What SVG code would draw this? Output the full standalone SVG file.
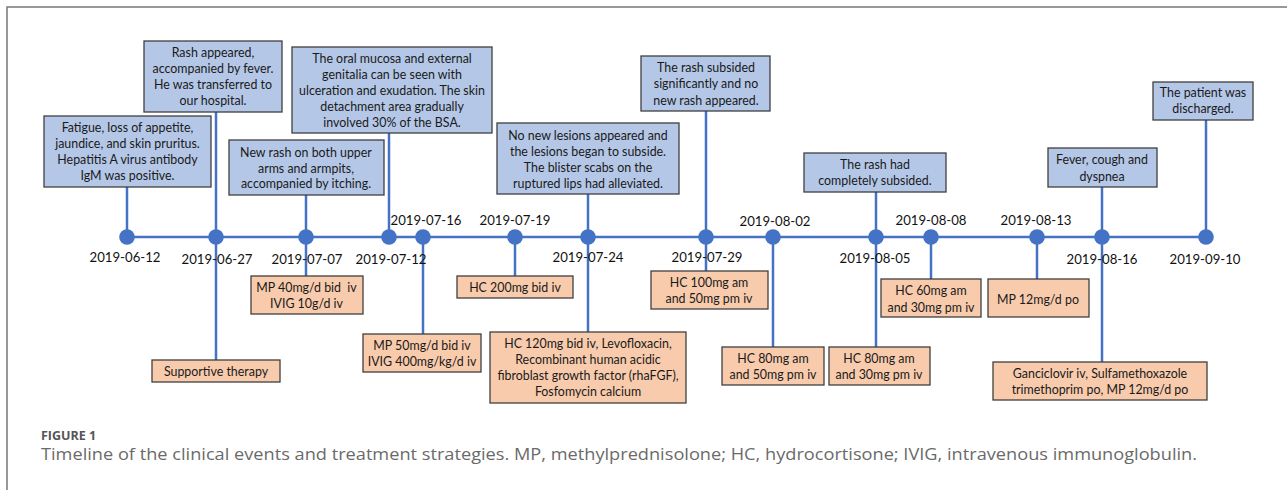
<svg xmlns="http://www.w3.org/2000/svg" width="1287" height="490" viewBox="0 0 1287 490">
<style>
.frame{fill:none;stroke:#777;stroke-width:1.5}
.ln{stroke:#4472C4;stroke-width:2.5;fill:none}
.dot{fill:#4472C4}
.ev{fill:#B4C7E7;stroke:#3f3f3f;stroke-width:1.3}
.tr{fill:#F8CBAD;stroke:#3f3f3f;stroke-width:1.3}
.t{font-family:Lato,"Liberation Sans",Arial,sans-serif;font-size:12.4px;fill:#1a1a1a;text-anchor:middle}
.d{font-family:Lato,"Liberation Sans",Arial,sans-serif;font-size:13.2px;fill:#111;text-anchor:middle}
.cap1{font-family:"Open Sans","Liberation Sans",sans-serif;font-size:12.5px;font-weight:bold;fill:#555}
.cap2{font-family:"Open Sans","Liberation Sans",sans-serif;font-size:15.5px;fill:#6a6a6a}
</style>
<rect width="1287" height="490" fill="#fff"/>
<path class="frame" d="M7,490 V7 H1287"/>

<g id="connectors">
<line class="ln" x1="127" y1="237" x2="1206" y2="237"/>
<line class="ln" x1="127" y1="187" x2="127" y2="237"/>
<line class="ln" x1="216" y1="112" x2="216" y2="360"/>
<line class="ln" x1="306" y1="195" x2="306" y2="276"/>
<line class="ln" x1="389" y1="133" x2="389" y2="237"/>
<line class="ln" x1="423" y1="237" x2="423" y2="334"/>
<line class="ln" x1="515" y1="237" x2="515" y2="276"/>
<line class="ln" x1="588" y1="194" x2="588" y2="332"/>
<line class="ln" x1="706" y1="111" x2="706" y2="271"/>
<line class="ln" x1="773" y1="237" x2="773" y2="347"/>
<line class="ln" x1="876" y1="192" x2="876" y2="347"/>
<line class="ln" x1="931" y1="237" x2="931" y2="279"/>
<line class="ln" x1="1037" y1="237" x2="1037" y2="279"/>
<line class="ln" x1="1102" y1="187" x2="1102" y2="362"/>
<line class="ln" x1="1206" y1="120" x2="1206" y2="237"/>
</g>

<g id="dots">
<circle class="dot" cx="127" cy="237" r="7.8"/>
<circle class="dot" cx="216" cy="237" r="7.8"/>
<circle class="dot" cx="306" cy="237" r="7.8"/>
<circle class="dot" cx="389" cy="237" r="7.8"/>
<circle class="dot" cx="423" cy="237" r="7.8"/>
<circle class="dot" cx="515" cy="237" r="7.8"/>
<circle class="dot" cx="588" cy="237" r="7.8"/>
<circle class="dot" cx="706" cy="237" r="7.8"/>
<circle class="dot" cx="773" cy="237" r="7.8"/>
<circle class="dot" cx="876" cy="237" r="7.8"/>
<circle class="dot" cx="931" cy="237" r="7.8"/>
<circle class="dot" cx="1037" cy="237" r="7.8"/>
<circle class="dot" cx="1102" cy="237" r="7.8"/>
<circle class="dot" cx="1206" cy="237" r="7.8"/>
</g>

<g id="dates">
<text class="d" x="125" y="262">2019-06-12</text>
<text class="d" x="217" y="264">2019-06-27</text>
<text class="d" x="307" y="264">2019-07-07</text>
<text class="d" x="391" y="264">2019-07-12</text>
<text class="d" x="426" y="225">2019-07-16</text>
<text class="d" x="515" y="225">2019-07-19</text>
<text class="d" x="588" y="262">2019-07-24</text>
<text class="d" x="707" y="262">2019-07-29</text>
<text class="d" x="775" y="226">2019-08-02</text>
<text class="d" x="875" y="263">2019-08-05</text>
<text class="d" x="931" y="225">2019-08-08</text>
<text class="d" x="1036" y="225">2019-08-13</text>
<text class="d" x="1102" y="264">2019-08-16</text>
<text class="d" x="1205" y="264">2019-09-10</text>
</g>

<g id="ev-0612">
<rect class="ev" x="44" y="116" width="167" height="71"/>
<text class="t" x="127.5" y="132">Fatigue, loss of appetite,</text>
<text class="t" x="127.5" y="148">jaundice, and skin pruritus.</text>
<text class="t" x="127.5" y="164">Hepatitis A virus antibody</text>
<text class="t" x="127.5" y="180">IgM was positive.</text>
</g>
<g id="ev-0627">
<rect class="ev" x="144" y="41" width="138" height="71"/>
<text class="t" x="213" y="57">Rash appeared,</text>
<text class="t" x="213" y="73">accompanied by fever.</text>
<text class="t" x="213" y="89">He was transferred to</text>
<text class="t" x="213" y="105">our hospital.</text>
</g>
<g id="ev-0707">
<rect class="ev" x="229" y="140" width="155" height="55"/>
<text class="t" x="306" y="156.5">New rash on both upper</text>
<text class="t" x="306" y="172.5">arms and armpits,</text>
<text class="t" x="306" y="188">accompanied by itching.</text>
</g>
<g id="ev-0712">
<rect class="ev" x="292" y="47" width="200" height="86"/>
<text class="t" x="392" y="63">The oral mucosa and external</text>
<text class="t" x="392" y="79">genitalia can be seen with</text>
<text class="t" x="392" y="95">ulceration and exudation. The skin</text>
<text class="t" x="392" y="111">detachment area gradually</text>
<text class="t" x="392" y="127">involved 30% of the BSA.</text>
</g>
<g id="ev-0724">
<rect class="ev" x="497" y="123" width="182" height="71"/>
<text class="t" x="588" y="140">No new lesions appeared and</text>
<text class="t" x="588" y="156">the lesions began to subside.</text>
<text class="t" x="588" y="172">The blister scabs on the</text>
<text class="t" x="588" y="188">ruptured lips had alleviated.</text>
</g>
<g id="ev-0729">
<rect class="ev" x="641" y="56" width="129" height="55"/>
<text class="t" x="706" y="72">The rash subsided</text>
<text class="t" x="706" y="88">significantly and no</text>
<text class="t" x="706" y="104.5">new rash appeared.</text>
</g>
<g id="ev-0805">
<rect class="ev" x="804" y="153" width="142" height="39"/>
<text class="t" x="875" y="169">The rash had</text>
<text class="t" x="875" y="185">completely subsided.</text>
</g>
<g id="ev-0816">
<rect class="ev" x="1048" y="148" width="109" height="39"/>
<text class="t" x="1102" y="164">Fever, cough and</text>
<text class="t" x="1102" y="180.5">dyspnea</text>
</g>
<g id="ev-0910">
<rect class="ev" x="1153" y="82" width="100" height="38"/>
<text class="t" x="1203" y="97">The patient was</text>
<text class="t" x="1203" y="113">discharged.</text>
</g>

<g id="tr-0627">
<rect class="tr" x="152" y="360" width="128" height="22"/>
<text class="t" x="216" y="376">Supportive therapy</text>
</g>
<g id="tr-0707">
<rect class="tr" x="251" y="276" width="112" height="38"/>
<text class="t" x="306.5" y="292" xml:space="preserve">MP 40mg/d bid  iv</text>
<text class="t" x="306.5" y="308">IVIG 10g/d iv</text>
</g>
<g id="tr-0716">
<rect class="tr" x="363" y="334" width="118" height="38"/>
<text class="t" x="422" y="350">MP 50mg/d bid iv</text>
<text class="t" x="422" y="366">IVIG 400mg/kg/d iv</text>
</g>
<g id="tr-0719">
<rect class="tr" x="457" y="276" width="116" height="22"/>
<text class="t" x="515" y="292">HC 200mg bid iv</text>
</g>
<g id="tr-0724">
<rect class="tr" x="490" y="332" width="196" height="71"/>
<text class="t" x="588" y="348">HC 120mg bid iv, Levofloxacin,</text>
<text class="t" x="588" y="364">Recombinant human acidic</text>
<text class="t" x="588" y="380">fibroblast growth factor (rhaFGF),</text>
<text class="t" x="588" y="396">Fosfomycin calcium</text>
</g>
<g id="tr-0729">
<rect class="tr" x="651" y="271" width="117" height="38"/>
<text class="t" x="709" y="287">HC 100mg am</text>
<text class="t" x="709" y="303">and 50mg pm iv</text>
</g>
<g id="tr-0802">
<rect class="tr" x="722" y="347" width="102" height="38"/>
<text class="t" x="773" y="362.5">HC 80mg am</text>
<text class="t" x="773" y="378.5">and 50mg pm iv</text>
</g>
<g id="tr-0805">
<rect class="tr" x="829" y="347" width="101" height="38"/>
<text class="t" x="879" y="362.5">HC 80mg am</text>
<text class="t" x="879" y="378.5">and 30mg pm iv</text>
</g>
<g id="tr-0808">
<rect class="tr" x="881" y="279" width="100" height="38"/>
<text class="t" x="931" y="295">HC 60mg am</text>
<text class="t" x="931" y="311.5">and 30mg pm iv</text>
</g>
<g id="tr-0813">
<rect class="tr" x="988" y="279" width="101" height="38"/>
<text class="t" x="1038" y="304">MP 12mg/d po</text>
</g>
<g id="tr-0816">
<rect class="tr" x="993" y="362" width="214" height="38"/>
<text class="t" x="1100" y="378">Ganciclovir iv, Sulfamethoxazole</text>
<text class="t" x="1100" y="394">trimethoprim po, MP 12mg/d po</text>
</g>

<g id="caption">
<text class="cap1" x="41" y="440">FIGURE 1</text>
<text class="cap2" x="41" y="460" textLength="1156" lengthAdjust="spacingAndGlyphs">Timeline of the clinical events and treatment strategies. MP, methylprednisolone; HC, hydrocortisone; IVIG, intravenous immunoglobulin.</text>
</g>
</svg>
